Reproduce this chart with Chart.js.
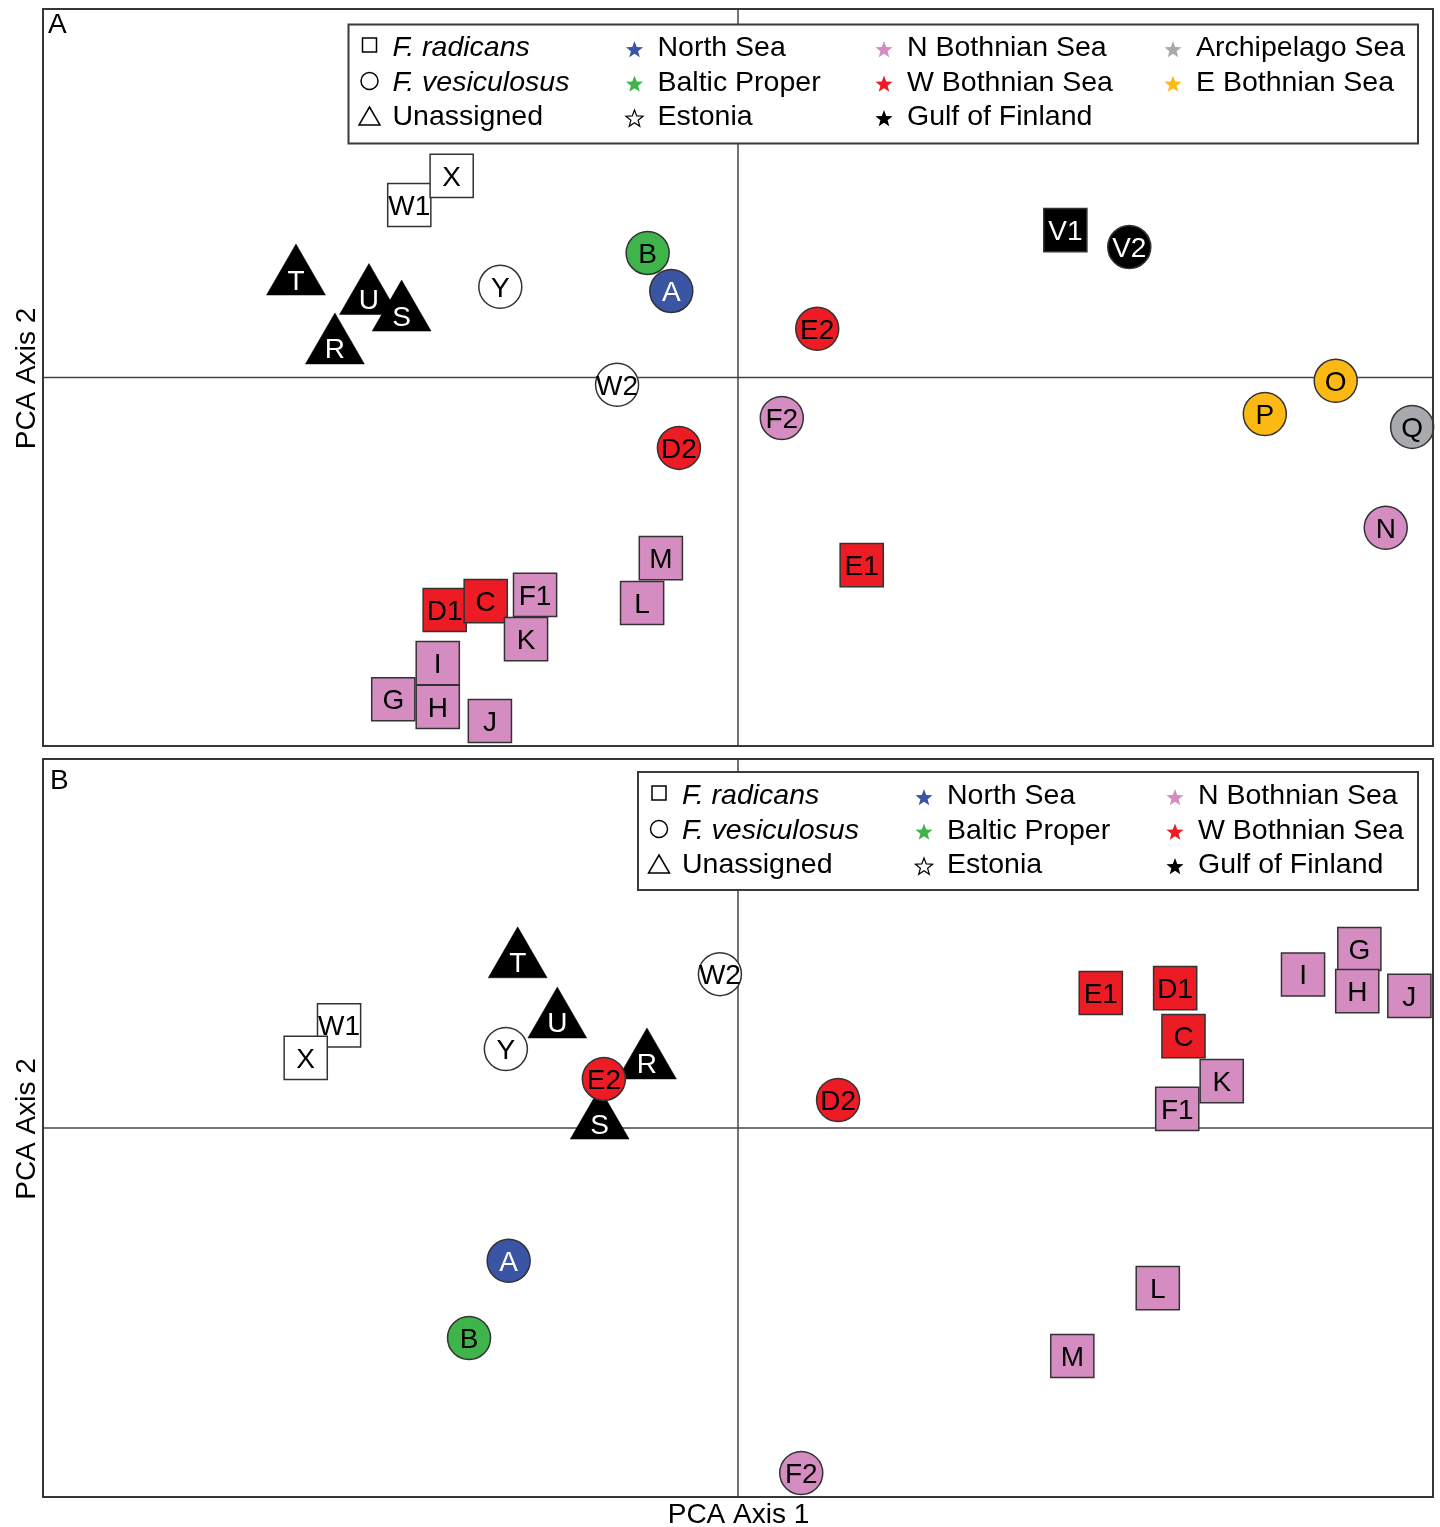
<!DOCTYPE html>
<html>
<head>
<meta charset="utf-8">
<title>PCA of Fucus samples</title>
<script src="https://cdn.jsdelivr.net/npm/chart.js@4.4.1/dist/chart.umd.min.js"></script>
<style>
  html, body { margin: 0; padding: 0; background: #ffffff; }
  #wrap { position: relative; width: 1440px; height: 1527px; }
  .panel { position: absolute; left: 0; width: 1440px; }
  #panelA { top: 0; height: 755px; }
  #panelB { top: 755px; height: 772px; }
  canvas { display: block; }
</style>
</head>
<body>
<div id="wrap">
  <div class="panel" id="panelA"><canvas id="chartA" width="1440" height="755"></canvas></div>
  <div class="panel" id="panelB"><canvas id="chartB" width="1440" height="772"></canvas></div>
</div>
<script>
// ---- Panel A: PCA scores (listed in drawing order, later points on top) ----
const samplesA = ['Y','W2','D2','F2','E2','V2','O','P','Q','N','B','A',
                  'W1','X','V1','E1','D1','C','F1','K','I','G','H','J','M','L',
                  'T','R','U','S'];
const taxonA   = ['ves','ves','ves','ves','ves','ves','ves','ves','ves','ves','ves','ves',
                  'rad','rad','rad','rad','rad','rad','rad','rad','rad','rad','rad','rad','rad','rad',
                  'una','una','una','una'];
const regionA  = ['EST','EST','WB','NB','WB','GF','EB','EB','AS','NB','BP','NS',
                  'EST','EST','GF','WB','WB','WB','NB','NB','NB','NB','NB','NB','NB','NB',
                  'GF','GF','GF','GF'];
const axis1A   = [-0.342,-0.174,-0.085,0.063,0.114,0.563,0.860,0.758,0.970,0.932,-0.130,-0.096,
                  -0.473,-0.412,0.471,0.178,-0.422,-0.363,-0.292,-0.305,-0.432,-0.496,-0.432,-0.357,-0.111,-0.138,
                  -0.636,-0.580,-0.531,-0.484];
const axis2A   = [0.246,-0.020,-0.191,-0.110,0.132,0.354,-0.009,-0.099,-0.134,-0.408,0.338,0.235,
                  0.468,0.547,0.400,-0.509,-0.631,-0.607,-0.590,-0.710,-0.775,-0.873,-0.894,-0.932,-0.490,-0.612,
                  0.270,0.083,0.217,0.172];

// ---- Panel B ----
const samplesB = ['W1','X','E1','D1','C','K','F1','I','G','H','J','L','M',
                  'W2','Y','D2','A','B','F2',
                  'T','U','R','S','E2'];
const taxonB   = ['rad','rad','rad','rad','rad','rad','rad','rad','rad','rad','rad','rad','rad',
                  'ves','ves','ves','ves','ves','ves',
                  'una','una','una','una','ves'];
const regionB  = ['EST','EST','WB','WB','WB','NB','NB','NB','NB','NB','NB','NB','NB',
                  'EST','EST','WB','NS','BP','NB',
                  'GF','GF','GF','GF','WB'];
const axis1B   = [-0.574,-0.622,0.522,0.629,0.641,0.696,0.632,0.813,0.894,0.891,0.966,0.604,0.481,
                  -0.026,-0.334,0.144,-0.330,-0.387,0.091,
                  -0.317,-0.260,-0.131,-0.199,-0.193];
const axis2B   = [0.278,0.190,0.366,0.379,0.249,0.127,0.052,0.416,0.485,0.371,0.358,-0.434,-0.618,
                  0.417,0.214,0.076,-0.360,-0.569,-0.935,
                  0.453,0.290,0.179,0.016,0.133];

// ---- Legend content ----
const taxonKeys   = ['rad','ves','una'];
const taxonNames  = ['F. radicans','F. vesiculosus','Unassigned'];
const regionKeys  = ['NS','BP','EST','NB','WB','GF','AS','EB'];
const regionNames = ['North Sea','Baltic Proper','Estonia','N Bothnian Sea','W Bothnian Sea','Gulf of Finland','Archipelago Sea','E Bothnian Sea'];
const legendColumnsA = [['NS','BP','EST'],['NB','WB','GF'],['AS','EB']];
const legendColumnsB = [['NS','BP','EST'],['NB','WB','GF']];

// ---- Styling ----
const regionColor = {NS:'#3A55A4', BP:'#3FB44A', EST:'#FFFFFF', NB:'#D58DC1', WB:'#ED1C24', GF:'#000000', AS:'#A7A9AC', EB:'#FDB913'};
const darkRegions = ['NS','GF'];
const taxonStyle  = {rad:'rect', ves:'circle', una:'triangle'};
const taxonRadius = {rad:30.5, ves:21.5, una:34};
const FONT = '"Liberation Sans", Arial, Helvetica, sans-serif';

function buildDataset(ids, taxa, regions, xs, ys) {
  return {
    data: ids.map((id, i) => ({x: xs[i], y: ys[i], id: id, taxon: taxa[i], region: regions[i]})),
    showLine: false,
    clip: false,
    pointStyle: taxa.map(t => taxonStyle[t]),
    pointRadius: taxa.map(t => taxonRadius[t]),
    pointHoverRadius: taxa.map(t => taxonRadius[t]),
    pointBackgroundColor: regions.map(r => regionColor[r]),
    pointBorderColor: taxa.map(t => t === 'una' ? '#000000' : '#333333'),
    pointBorderWidth: taxa.map(t => t === 'una' ? 0.5 : 1.5)
  };
}

function drawStar(ctx, cx, cy, R, fill) {
  const r = R * 0.42;
  ctx.beginPath();
  for (let i = 0; i < 10; i++) {
    const ang = -Math.PI / 2 + i * Math.PI / 5;
    const rad = i % 2 ? r : R;
    ctx.lineTo(cx + rad * Math.cos(ang), cy + rad * Math.sin(ang));
  }
  ctx.closePath();
  ctx.fillStyle = fill;
  ctx.fill();
  if (fill === '#FFFFFF') {
    ctx.strokeStyle = '#000000';
    ctx.lineWidth = 1.2;
    ctx.stroke();
  }
}

function drawTaxonSymbol(ctx, key, cx, base) {
  ctx.strokeStyle = '#000000';
  ctx.lineWidth = 1.5;
  ctx.beginPath();
  if (key === 'rad') {
    ctx.rect(cx - 7, base - 18, 14, 14);
  } else if (key === 'ves') {
    ctx.arc(cx, base - 9.5, 8.5, 0, Math.PI * 2);
  } else {
    ctx.moveTo(cx, base - 18);
    ctx.lineTo(cx + 10.5, base);
    ctx.lineTo(cx - 10.5, base);
    ctx.closePath();
  }
  ctx.stroke();
}

function drawLegend(ctx, L) {
  ctx.save();
  ctx.fillStyle = '#ffffff';
  ctx.fillRect(L.x, L.y, L.w, L.h);
  ctx.lineWidth = 2;
  ctx.strokeStyle = '#3a3a3a';
  ctx.strokeRect(L.x, L.y, L.w, L.h);
  ctx.textBaseline = 'alphabetic';
  ctx.textAlign = 'left';
  // species / shape column
  taxonKeys.forEach((k, r) => {
    const base = L.y + L.rows[r];
    drawTaxonSymbol(ctx, k, L.symX, base);
    ctx.fillStyle = '#000000';
    ctx.font = (k === 'una' ? '' : 'italic ') + '28.5px ' + FONT;
    ctx.fillText(taxonNames[r], L.textX, base);
  });
  // region / colour columns
  L.columns.forEach((col, c) => {
    col.forEach((key, r) => {
      const base = L.y + L.rows[r];
      drawStar(ctx, L.starX[c], base - 6, 9, regionColor[key]);
      ctx.fillStyle = '#000000';
      ctx.font = '28.5px ' + FONT;
      ctx.fillText(regionNames[regionKeys.indexOf(key)], L.starX[c] + 23, base);
    });
  });
  ctx.restore();
}

const panelDecor = {
  id: 'panelDecor',
  beforeDatasetsDraw(chart) {
    const {ctx, chartArea: a, scales: {x, y}} = chart;
    const x0 = x.getPixelForValue(0), y0 = y.getPixelForValue(0);
    ctx.save();
    ctx.strokeStyle = '#454545';
    ctx.lineWidth = 1.5;
    ctx.beginPath();
    ctx.moveTo(x0, a.top); ctx.lineTo(x0, a.bottom);
    ctx.moveTo(a.left, y0); ctx.lineTo(a.right, y0);
    ctx.stroke();
    ctx.restore();
  },
  afterDatasetsDraw(chart, args, opts) {
    const {ctx, chartArea: a} = chart;
    const meta = chart.getDatasetMeta(0);
    const pts = chart.data.datasets[0].data;
    ctx.save();
    // sample labels inside the markers
    ctx.font = '28px ' + FONT;
    ctx.textAlign = 'center';
    ctx.textBaseline = 'alphabetic';
    meta.data.forEach((el, i) => {
      const p = pts[i];
      ctx.fillStyle = darkRegions.includes(p.region) ? '#ffffff' : '#000000';
      const dy = p.taxon === 'una' ? 11.5 : 10;
      ctx.fillText(p.id, el.x, el.y + dy);
    });
    // frame
    ctx.lineWidth = 2;
    ctx.strokeStyle = '#363636';
    ctx.strokeRect(a.left, a.top, a.right - a.left, a.bottom - a.top);
    // panel letter
    ctx.fillStyle = '#000000';
    ctx.font = '28px ' + FONT;
    ctx.textAlign = 'left';
    ctx.fillText(opts.letter, opts.letterX, opts.letterY);
    // axis titles
    ctx.textAlign = 'center';
    ctx.save();
    ctx.translate(35, (a.top + a.bottom) / 2 + 1);
    ctx.rotate(-Math.PI / 2);
    ctx.fillText('PCA Axis 2', 0, 0);
    ctx.restore();
    if (opts.xTitle) {
      ctx.fillText(opts.xTitle, (a.left + a.right) / 2 + 0.5, opts.xTitleY);
    }
    ctx.restore();
    drawLegend(ctx, opts.legend);
  }
};

function makeChart(canvasId, dataset, padding, decor) {
  return new Chart(document.getElementById(canvasId), {
    type: 'scatter',
    data: {datasets: [dataset]},
    plugins: [panelDecor],
    options: {
      responsive: false,
      animation: false,
      events: [],
      layout: {padding: padding, autoPadding: false},
      scales: {
        x: {type: 'linear', min: -1, max: 1, display: false},
        y: {type: 'linear', min: -1, max: 1, display: false}
      },
      plugins: {
        legend: {display: false},
        tooltip: {enabled: false},
        panelDecor: decor
      }
    }
  });
}

makeChart('chartA',
  buildDataset(samplesA, taxonA, regionA, axis1A, axis2A),
  {left: 43, right: 7, top: 9, bottom: 9},
  {
    letter: 'A', letterX: 48, letterY: 33,
    legend: {x: 348.5, y: 24.5, w: 1069.5, h: 119, rows: [31.5, 66, 100.5],
             symX: 369.5, textX: 392.5, starX: [634.5, 884, 1173], columns: legendColumnsA}
  });

makeChart('chartB',
  buildDataset(samplesB, taxonB, regionB, axis1B, axis2B),
  {left: 43, right: 7, top: 4, bottom: 30},
  {
    letter: 'B', letterX: 50, letterY: 34,
    xTitle: 'PCA Axis 1', xTitleY: 768,
    legend: {x: 638, y: 17, w: 780, h: 118, rows: [32, 66.5, 101],
             symX: 659, textX: 682, starX: [924, 1175], columns: legendColumnsB}
  });
</script>
</body>
</html>
